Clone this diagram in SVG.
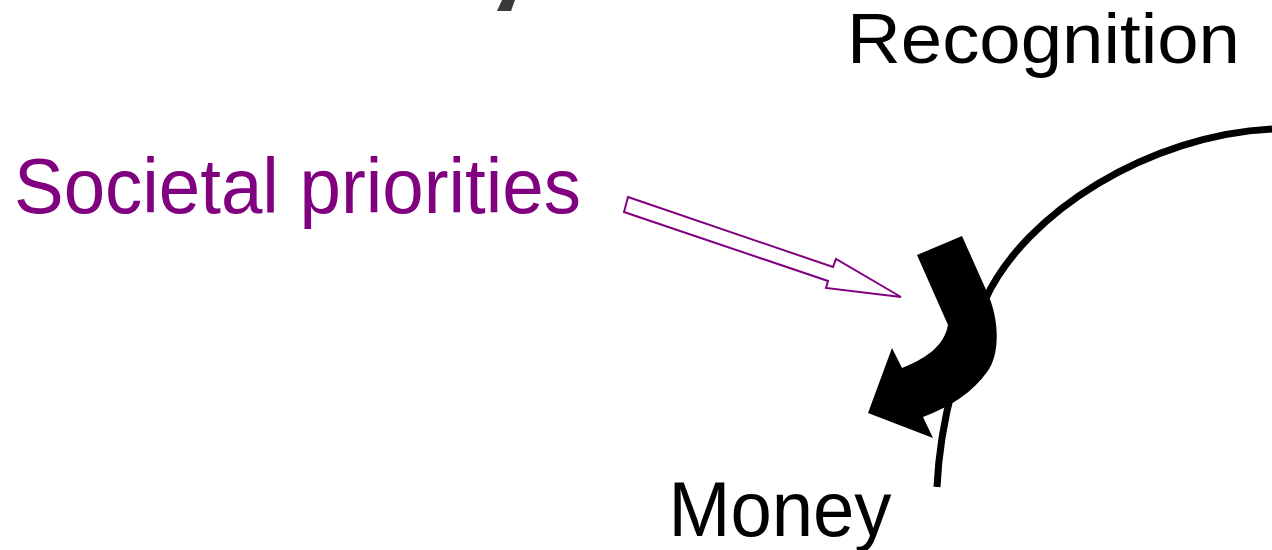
<svg xmlns="http://www.w3.org/2000/svg" width="1272" height="550" viewBox="0 0 1272 550">
<style>
.lbl{font-family:"Liberation Sans",Arial,sans-serif;}
.blk{fill:#000;}
.pur{fill:#800080;}
</style>
<rect width="1272" height="550" fill="#fff"/>
<polygon points="502,0 515,0 511,11 497,11" fill="#3a3a3a"/>
<g id="connectors">
<path d="M1272,129 C1150,135 1025,212 985,300 C960,350 940,420 937,487" fill="none" stroke="#000" stroke-width="7"/>
<path d="M917,255 L962,236 L987,292 C1000,320 1000,355 987,372 C973,392 950,407 923,417 L933,438 L868,413 L892,348 L902,368 C922,360 944,348 948,325 Z" fill="#000"/>
<polygon points="628,197 833,267 836,259 901,297 826,288 828,281 624,212" fill="#fff" stroke="#800080" stroke-width="2"/>
</g>
<g id="recognition"><text class="lbl blk" x="847" y="63" font-size="71" textLength="393" lengthAdjust="spacingAndGlyphs">Recognition</text></g>
<g id="societal"><text class="lbl pur" x="14" y="213" font-size="78" textLength="567" lengthAdjust="spacingAndGlyphs">Societal priorities</text></g>
<g id="money"><text class="lbl blk" x="668.5" y="536" font-size="77" textLength="223" lengthAdjust="spacingAndGlyphs">Money</text></g>
</svg>
